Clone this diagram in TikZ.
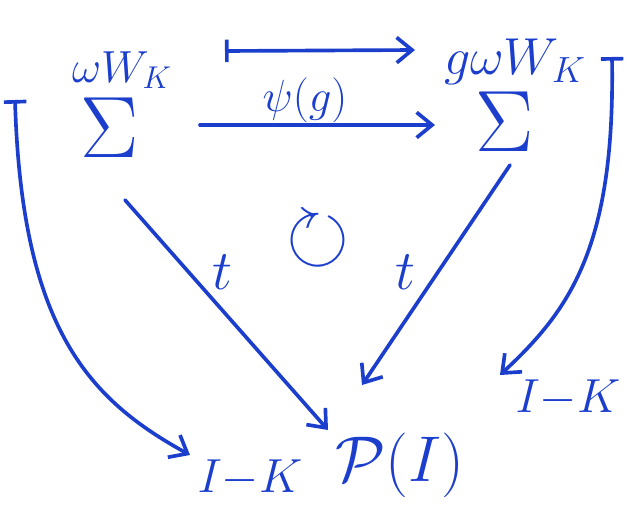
\RequirePackage{fix-cm}
\documentclass[tikz,border=0pt]{standalone}
\usepackage{amsmath, amssymb}
\usepackage{tikz}
\usetikzlibrary{positioning, calc, arrows.meta}
\usepackage{xcolor}
\definecolor{ink}{RGB}{28,62,205}

\begin{document}
\begin{tikzpicture}[
    x=0.025cm, y=-0.025cm,
    obj/.style={inner sep=0pt, text=ink, font=\fontsize{62}{62}\selectfont},
    lbl/.style={inner sep=0pt, text=ink, font=\fontsize{32}{32}\selectfont},
    arr/.style={draw=ink, line width=2.6pt, line cap=round,
                -{Straight Barb[length=11pt,width=18pt]}},
    mapsto/.style={arr, {Bar[width=16pt]}-{Straight Barb[length=11pt,width=18pt]}}
]
  \useasboundingbox (0,0) rectangle (627,513);

  % --- TOP ROW ---
  \node[obj] (S1) at (110,128) {$\Sigma$};
  \node[obj] (S2) at (505,122) {$\Sigma$};
  \node[lbl] (L1) at (122,70) {$\omega W_K$};
  \node[lbl, font=\fontsize{37}{37}\selectfont] (L2) at (515,62) {$g\omega W_K$};
  \node[lbl] (psi) at (305,100) {$\psi(g)$};

  % --- MIDDLE ---
  \node[lbl, font=\fontsize{40}{40}\selectfont] (tL) at (222,272) {$t$};
  \node[lbl, font=\fontsize{40}{40}\selectfont] (tR) at (405,272) {$t$};
  \node[lbl, font=\fontsize{24}{24}\selectfont] (cw) at (318,240)
       {\scalebox{2.4}{$\circlearrowright$}};

  % --- BOTTOM ROW ---
  \node[lbl, font=\fontsize{46}{46}\selectfont] (PI) at (400,465) {$\mathcal{P}(I)$};
  \node[lbl, font=\fontsize{34}{34}\selectfont] (IK1) at (250,478) {$I{-}K$};
  \node[lbl, font=\fontsize{34}{34}\selectfont] (IK2) at (568,398) {$I{-}K$};

  % --- DRAWING ARROWS ---
  \draw[mapsto] ($(L1)+(103,-19)$) -- ($(L2)+(-100,-12)$);
  \draw[arr] ($(S1)+(90,-3)$) -- ($(S2)+(-70,3)$);

  \draw[arr] ($(S1)+(15,72)$) -- ($(PI)+(-72,-35)$);
  \draw[arr] ($(S2)+(5,43)$) -- ($(PI)+(-38,-80)$);

  % Outer curved arrows
  \draw[mapsto] (15,100) .. controls +(7,230) and +(-100,-55)
        .. ($(IK1)+(-60,-23)$);
  \draw[mapsto] (612,57) .. controls +(3,190) and +(70,-65)
        .. ($(IK2)+(-68,-23)$);
\end{tikzpicture}
\end{document}
